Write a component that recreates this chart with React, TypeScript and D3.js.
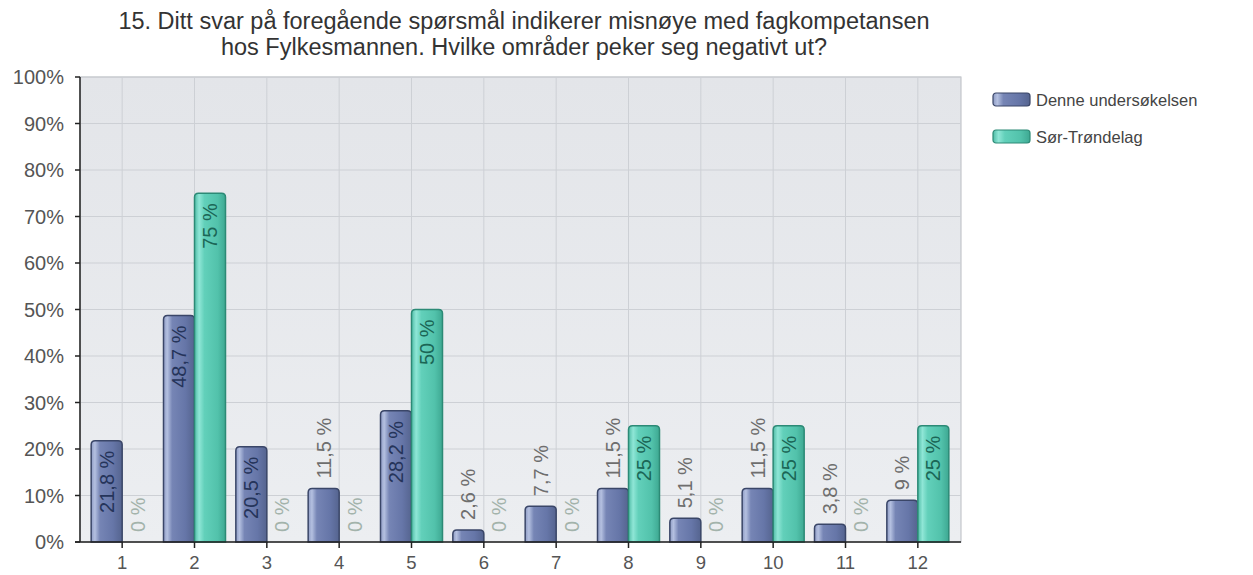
import React from "react";
import * as d3 from "d3";

const categories = ["1", "2", "3", "4", "5", "6", "7", "8", "9", "10", "11", "12"];
const seriesNames = ["Denne undersøkelsen", "Sør-Trøndelag"];
const denneValues = [21.8, 48.7, 20.5, 11.5, 28.2, 2.6, 7.7, 11.5, 5.1, 11.5, 3.8, 9];
const sorValues = [0, 75, 0, 0, 50, 0, 0, 25, 0, 25, 0, 25];
const yTicks = [0, 10, 20, 30, 40, 50, 60, 70, 80, 90, 100];
const titleLines = [
  "15. Ditt svar på foregående spørsmål indikerer misnøye med fagkompetansen",
  "hos Fylkesmannen. Hvilke områder peker seg negativt ut?",
];

const W = 1253;
const H = 575;
const plotL = 80;
const plotR = 961;
const plotT = 77;
const plotB = 542;
const FONT = "'Liberation Sans', Arial, sans-serif";

const fmt = (v: number) => `${String(v).replace(".", ",")} %`;

export default function App() {
  const x = d3.scaleBand<string>().domain(categories).range([86, 954]).padding(0);
  const y = d3.scaleLinear().domain([0, 100]).range([plotB, plotT]);
  const bw = x.bandwidth();
  const barW = 31;

  const series = [
    { name: seriesNames[0], values: denneValues, grad: "gBlue", stroke: "#3a4668", inText: "#25345a", outText: "#6e6e6e", off: -barW },
    { name: seriesNames[1], values: sorValues, grad: "gGreen", stroke: "#2c8a76", inText: "#1b6656", outText: "#a3b3ab", off: 0 },
  ];

  const barPath = (x0: number, y0: number, w: number, h: number, r: number) => {
    if (h <= 0) return "";
    const rr = Math.min(r, h);
    return `M${x0},${y0 + h}V${y0 + rr}Q${x0},${y0} ${x0 + rr},${y0}H${x0 + w - rr}Q${x0 + w},${y0} ${x0 + w},${y0 + rr}V${y0 + h}Z`;
  };

  return (
    <svg width={W} height={H} style={{ display: "block", position: "absolute", left: 0, top: 0, background: "#fff" }}>
      <defs>
        <linearGradient id="gBlue" x1="0" x2="1" y1="0" y2="0">
          <stop offset="0" stopColor="#8e9bc4" />
          <stop offset="0.12" stopColor="#b4c0e0" />
          <stop offset="0.28" stopColor="#7685b5" />
          <stop offset="0.7" stopColor="#6676a8" />
          <stop offset="1" stopColor="#55648f" />
        </linearGradient>
        <linearGradient id="gGreen" x1="0" x2="1" y1="0" y2="0">
          <stop offset="0" stopColor="#4fbca6" />
          <stop offset="0.15" stopColor="#8fe6d6" />
          <stop offset="0.32" stopColor="#62d0ba" />
          <stop offset="0.75" stopColor="#52c2ab" />
          <stop offset="1" stopColor="#3ea892" />
        </linearGradient>
        <linearGradient id="gBg" x1="0" x2="0" y1="0" y2="1">
          <stop offset="0" stopColor="#e3e5e9" />
          <stop offset="1" stopColor="#eceef1" />
        </linearGradient>
      </defs>

      {titleLines.map((t, i) => (
        <text key={i} x={524} y={29 + i * 26} textAnchor="middle" fontFamily={FONT} fontSize={23.5} fill="#333">
          {t}
        </text>
      ))}

      <rect x={plotL} y={plotT} width={plotR - plotL} height={plotB - plotT} fill="url(#gBg)" stroke="#b9bcc2" strokeWidth={1} />

      {yTicks.map((t) => (
        <line key={"h" + t} x1={plotL} x2={plotR} y1={y(t)} y2={y(t)} stroke="#cdd0d5" strokeWidth={1} />
      ))}
      {categories.map((c) => (
        <line key={"v" + c} x1={x(c)! + bw / 2} x2={x(c)! + bw / 2} y1={plotT} y2={plotB} stroke="#cdd0d5" strokeWidth={1} />
      ))}

      {series.map((s) =>
        categories.map((c, i) => {
          const v = s.values[i];
          const cx = x(c)! + bw / 2 + s.off;
          const top = y(v);
          const h = plotB - top;
          const inside = v >= 15;
          const lx = cx + barW / 2;
          const ly = inside ? top + 10 : top - 10;
          return (
            <g key={s.name + c}>
              {v > 0 && (
                <path d={barPath(cx, top, barW, h, 4)} fill={`url(#${s.grad})`} stroke={s.stroke} strokeWidth={1.5} />
              )}
              <text
                transform={`translate(${lx},${ly}) rotate(-90)`}
                textAnchor={inside ? "end" : "start"}
                dy="0.35em"
                fontFamily={FONT}
                fontSize={20}
                fill={inside ? s.inText : s.outText}
              >
                {fmt(v)}
              </text>
            </g>
          );
        })
      )}

      <line x1={plotL} x2={plotL} y1={plotT} y2={plotB} stroke="#222" strokeWidth={1.5} />
      <line x1={plotL - 5} x2={plotR} y1={plotB} y2={plotB} stroke="#222" strokeWidth={1.5} />
      {yTicks.map((t) => (
        <g key={"yt" + t}>
          <line x1={plotL - 5} x2={plotL} y1={y(t)} y2={y(t)} stroke="#222" strokeWidth={1.5} />
          <text x={64} y={y(t)} dy="0.35em" textAnchor="end" fontFamily={FONT} fontSize={20} fill="#555">
            {t}%
          </text>
        </g>
      ))}
      {categories.map((c) => (
        <g key={"xt" + c}>
          <line x1={x(c)! + bw / 2} x2={x(c)! + bw / 2} y1={plotB} y2={plotB + 6} stroke="#222" strokeWidth={1.5} />
          <text x={x(c)! + bw / 2} y={569} textAnchor="middle" fontFamily={FONT} fontSize={18.5} fill="#555">
            {c}
          </text>
        </g>
      ))}

      {series.map((s, i) => (
        <g key={"lg" + i} transform={`translate(993,${93 + i * 37})`}>
          <rect x={0} y={0} width={37} height={13} rx={3} fill={`url(#${s.grad})`} stroke={s.stroke} strokeWidth={1.2} />
          <text x={43} y={7} dy="0.35em" fontFamily={FONT} fontSize={16.5} fill="#444">
            {s.name}
          </text>
        </g>
      ))}
    </svg>
  );
}
